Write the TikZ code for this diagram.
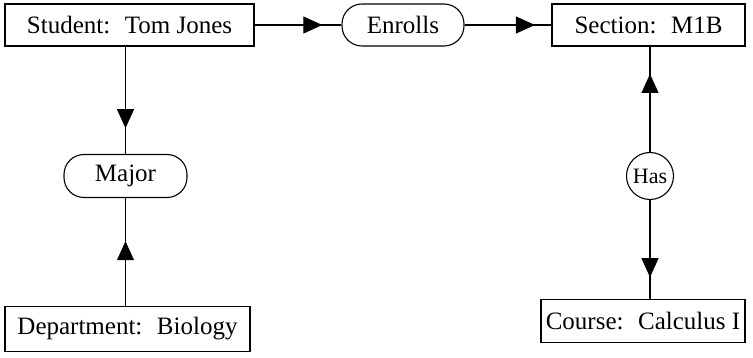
\documentclass[tikz,border=0pt]{standalone}
\usepackage{fontspec}
\setmainfont{Liberation Serif}
\usetikzlibrary{arrows.meta}
\usetikzlibrary{decorations.markings}
\usetikzlibrary{calc}

\tikzset{
  entity/.style={draw, line width=1.1pt, minimum height=42pt, inner sep=0pt,
    font=\fontsize{25}{28}\selectfont},
  relation/.style={entity, rounded corners=20pt},
  smallrel/.style={draw, line width=1.1pt, circle, minimum size=47pt, inner sep=0pt,
    font=\fontsize{22}{24}\selectfont},
  midarrow/.style={line width=1.1pt, postaction={decorate},
    decoration={markings, mark=at position #1 with
      {\arrow{Triangle[length=19pt,width=17pt]}}}}
}

\begin{document}
\begin{tikzpicture}[x=1pt, y=-1pt]
  \useasboundingbox (0,0) rectangle (753,358);

  % entities
  \node[entity, minimum width=249pt] (stu) at (129.5,25) {Student:~ Tom Jones};
  \node[entity, minimum width=193pt] (sec) at (648.5,25) {Section:~ M1B};
  \node[entity, minimum width=245pt, minimum height=45pt] (dep) at (127.5,329) {Department:~ Biology};
  \node[entity, minimum width=204pt, minimum height=43pt] (crs) at (643,321) {Course:~ Calculus I};

  % relationships
  \node[relation, minimum width=122pt] (enr) at (403,25) {Enrolls};
  \node[relation, minimum width=123pt, minimum height=43pt] (maj) at (125.5,176) {Major};
  \node[smallrel] (has) at (650,176) {Has};

  % connectors
  \draw[midarrow=0.78] (stu) -- (enr);
  \draw[midarrow=0.81] (enr) -- (sec);
  \draw[midarrow=0.76] (stu.south -| maj.north) -- (maj.north);
  \draw[midarrow=0.60] (dep.north -| maj.south) -- (maj.south);
  \draw[midarrow=0.74] (has.north) -- (sec.south -| has.north);
  \draw[midarrow=0.78] (has.south) -- (crs.north -| has.south);
\end{tikzpicture}
\end{document}
